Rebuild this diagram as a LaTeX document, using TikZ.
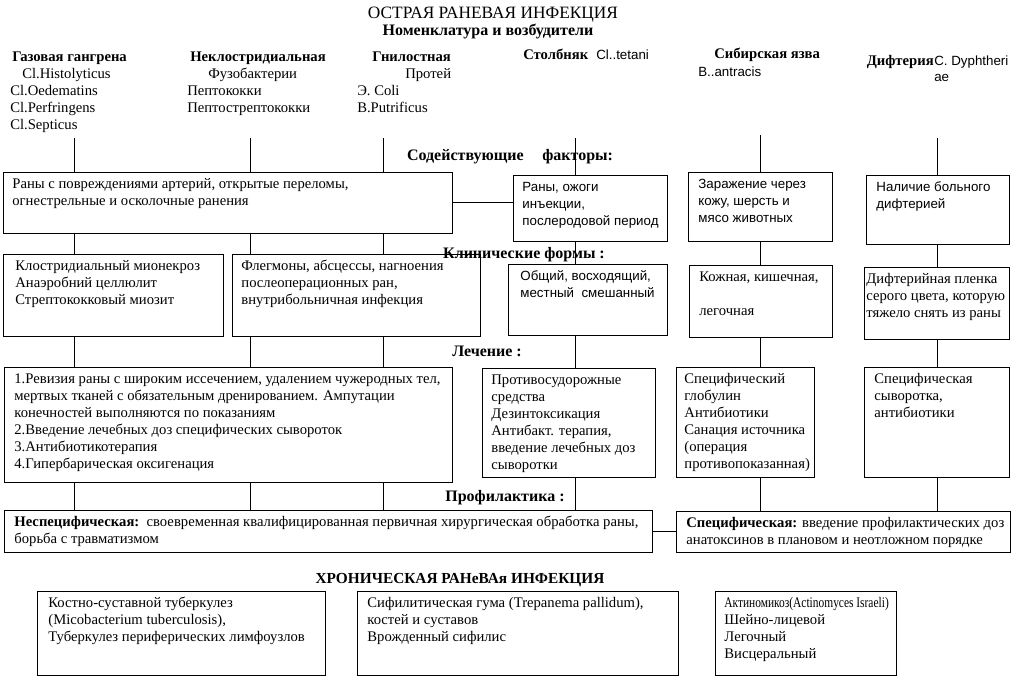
\documentclass[tikz,border=0pt]{standalone}
\usepackage{fontspec}
\usepackage{graphicx}
\setmainfont{Liberation Serif}
\setsansfont{Liberation Sans}
\usetikzlibrary{positioning}

\newdimen\px \px=0.75pt
\newcommand{\bodyfont}{\fontsize{11}{12.75}\selectfont}
\newcommand{\sansfont}{\sffamily\fontsize{10}{12.75}\selectfont}
% box text: [left pad]{width}{height}{lines}, first baseline fixed, no wrapping
\newcommand{\cell}[4][9]{%
  \begin{minipage}[c][#3\px][t]{#2\px}%
    \parindent=0pt \leftskip=#1\px \rightskip=0pt plus 1fil
    \rule{0pt}{12.4pt}\begin{tabular}[t]{@{}l@{}}#4\end{tabular}%
  \end{minipage}}

\begin{document}
\begin{tikzpicture}[x=0.75pt, y=-0.75pt, font=\bodyfont,
  cell/.style={draw, line width=0.6pt, anchor=north west, inner sep=0pt},
  txt/.style={anchor=north west, inner sep=0pt},
  lbl/.style={anchor=base west, inner sep=0pt},
  sect/.style={anchor=base, inner sep=0pt, font=\fontsize{12}{14}\selectfont\bfseries},
  link/.style={line width=0.6pt}]
  \useasboundingbox (0,0) rectangle (1020,677);

  % ---------- titles ----------
  \node[anchor=base, inner sep=0pt, font=\fontsize{13}{15}\selectfont] (title) at (493,19) {ОСТРАЯ РАНЕВАЯ ИНФЕКЦИЯ};
  \node[sect] (subtitle) at (488,36) {Номенклатура и возбудители};

  % ---------- pathogens ----------
  \node[txt] (gas) at (10,44.5) {\cell[0]{160}{90}{\hspace*{2\px}\textbf{Газовая гангрена}\\\hspace*{12\px}Cl.Histolyticus\\Cl.Oedematins\\Cl.Perfringens\\Cl.Septicus}};
  \node[txt] (nonclos) at (187,44.5) {\cell[0]{170}{70}{\hspace*{3\px}\textbf{Неклостридиальная}\\\hspace*{21\px}Фузобактерии\\Пептококки\\Пептострептококки}};
  \node[txt] (putrid) at (357,44.5) {\cell[0]{110}{70}{\hspace*{15\px}\textbf{Гнилостная}\\\hspace*{48\px}Протей\\Э. Coli\\B.Putrificus}};
  \node[lbl] (tetanus) at (523,60) {\textbf{Столбняк}};
  \node[lbl, font=\sansfont] (tetani) at (596,60) {Cl..tetani};
  \node[lbl] (anthrax) at (714,59) {\textbf{Сибирская язва}};
  \node[lbl, font=\sansfont] (antracis) at (698,77) {B..antracis};
  \node[lbl, anchor=base east] (diphth) at (934,66) {\textbf{Дифтерия}};
  \node[lbl, font=\sansfont] (dyph1) at (934,66) {C. Dyphtheri};
  \node[lbl, font=\sansfont] (dyph2) at (934,82) {ae};

  % ---------- section labels ----------
  \node[sect] (factors) at (510,161) {Содействующие\hspace{14pt}факторы:};
  \node[sect] (forms) at (524,258) {Клинические формы :};
  \node[sect] (therapy) at (487,356) {Лечение :};
  \node[sect] (prophy) at (505,501) {Профилактика :};

  % ---------- contributing factors ----------
  \node[cell] (fac1) at (3,172) {\cell{449}{61}{Раны с повреждениями артерий, открытые переломы,\\огнестрельные и осколочные ранения}};
  \node[cell, font=\sansfont] (fac2) at (513,175) {\cell{154}{66}{\rule{0pt}{11pt}Раны, ожоги\\инъекции,\\послеродовой период}};
  \node[cell, font=\sansfont] (fac3) at (688,172) {\cell[10]{144}{69}{Заражение через\\кожу, шерсть и\\мясо животных}};
  \node[cell, font=\sansfont] (fac4) at (866,175) {\cell[10]{143}{69}{Наличие больного\\дифтерией}};

  % ---------- clinical forms ----------
  \node[cell] (form1) at (3,254) {\cell[12]{220}{82}{Клостридиальный мионекроз\\Анаэробний целлюлит\\Стрептококковый миозит}};
  \node[cell] (form2) at (232,254) {\cell{248}{82}{Флегмоны, абсцессы, нагноения\\послеоперационных ран,\\внутрибольничная инфекция}};
  \node[cell, font=\sansfont] (form3) at (508,264) {\cell[12]{159}{71}{Общий, восходящий,\\местный\ \ смешанный}};
  \node[cell] (form4) at (689,265) {\cell[10]{143}{72}{Кожная, кишечная,\\\mbox{}\\легочная}};
  \node[cell] (form5) at (864,267) {\cell[2]{145}{72}{Дифтерийная пленка\\серого цвета, которую\\тяжело снять из раны}};

  % ---------- treatment ----------
  \node[cell] (tr1) at (4,367) {\cell[10]{448}{115}{1.Ревизия раны с широким иссечением, удалением чужеродных тел,\\мертвых тканей с обязательным дренированием. Ампутации\\конечностей выполняются по показаниям\\2.Введение лечебных доз специфических сывороток\\3.Антибиотикотерапия\\4.Гипербарическая оксигенация}};
  \node[cell] (tr2) at (482,368) {\cell{173}{109}{Противосудорожные\\средства\\Дезинтоксикация\\Антибакт. терапия,\\введение лечебных доз\\сыворотки}};
  \node[cell] (tr3) at (676,367) {\cell[8]{138}{110}{Специфический\\глобулин\\Антибиотики\\Санация источника\\(операция\\противопоказанная)}};
  \node[cell] (tr4) at (864,367) {\cell[10]{145}{110}{Специфическая\\сыворотка,\\антибиотики}};

  % ---------- prophylaxis ----------
  \node[cell] (pr1) at (4,510) {\cell[10]{648}{42}{\textbf{Неспецифическая:}\ \ своевременная квалифицированная первичная хирургическая обработка раны,\\борьба с травматизмом}};
  \node[cell] (pr2) at (676,511) {\cell[10]{334}{41}{\textbf{Специфическая:} введение профилактических доз\\анатоксинов в плановом и неотложном порядке}};

  % ---------- chronic infection ----------
  \node[sect, font=\fontsize{11.5}{14}\selectfont\bfseries] (chronic) at (460,583) {ХРОНИЧЕСКАЯ РАНеВАя ИНФЕКЦИЯ};
  \node[cell] (ch1) at (37,591) {\cell[11]{288}{84}{Костно-суставной туберкулез\\(Micobacterium tuberculosis),\\Туберкулез периферических лимфоузлов}};
  \node[cell] (ch2) at (357,591) {\cell[10]{321}{84}{Сифилитическая гума (Trepanema pallidum),\\костей и суставов\\Врожденный сифилис}};
  \node[cell] (ch3) at (715,591) {\cell{181}{84}{\scalebox{0.78}[1]{Актиномикоз(Actinomyces Israeli)}\\Шейно-лицевой\\Легочный\\Висцеральный}};

  % ---------- connectors ----------
  \coordinate (c1) at (74,138);
  \coordinate (c2) at (250,138);
  \coordinate (c3) at (383,138);
  \coordinate (c4) at (575,138);
  \coordinate (c5) at (760,135);
  \coordinate (c6) at (937,138);

  \draw[link] (c1) -- (c1 |- fac1.north) (c1 |- fac1.south) -- (c1 |- form1.north)
    (c1 |- form1.south) -- (c1 |- tr1.north) (c1 |- tr1.south) -- (c1 |- pr1.north);
  \draw[link] (c2) -- (c2 |- fac1.north) (c2 |- fac1.south) -- (c2 |- form2.north)
    (c2 |- form2.south) -- (c2 |- tr1.north) (c2 |- tr1.south) -- (c2 |- pr1.north);
  \draw[link] (c3) -- (c3 |- fac1.north) (c3 |- fac1.south) -- (c3 |- form2.north)
    (c3 |- form2.south) -- (c3 |- tr1.north) (c3 |- tr1.south) -- (c3 |- pr1.north);
  \draw[link] (c4) -- (c4 |- fac2.north) (c4 |- fac2.south) -- (c4 |- form3.north)
    (c4 |- form3.south) -- (c4 |- tr2.north) (c4 |- tr2.south) -- (c4 |- pr1.north);
  \draw[link] (c5) -- (c5 |- fac3.north) (c5 |- fac3.south) -- (c5 |- form4.north)
    (c5 |- form4.south) -- (c5 |- tr3.north) (c5 |- tr3.south) -- (c5 |- pr2.north);
  \draw[link] (c6) -- (c6 |- fac4.north) (c6 |- fac4.south) -- (c6 |- form5.north)
    (c6 |- form5.south) -- (c6 |- tr4.north) (c6 |- tr4.south) -- (c6 |- pr2.north);

  \draw[link] (fac1.east) -- (fac1.east -| fac2.west);
  \draw[link] (pr1.east) -- (pr1.east -| pr2.west);
\end{tikzpicture}
\end{document}
